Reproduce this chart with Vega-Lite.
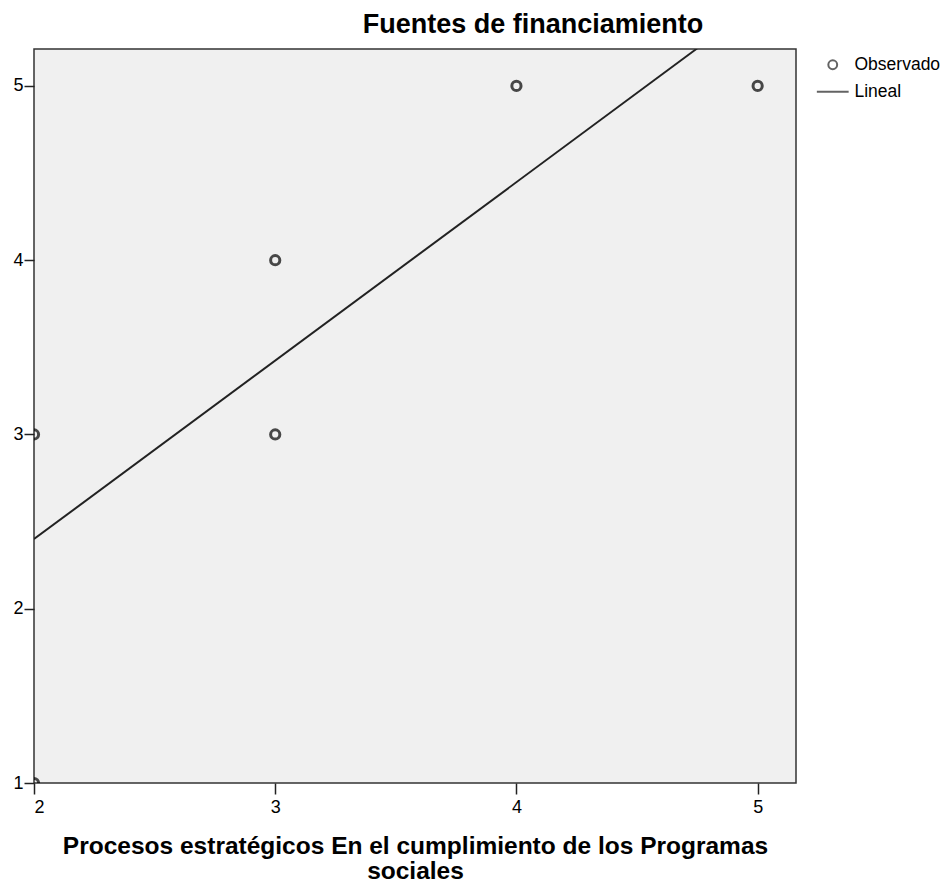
{
  "$schema": "https://vega.github.io/schema/vega-lite/v6.json",
  "autosize": {"type": "none"},
  "width": 762,
  "height": 734,
  "padding": {"left": 34, "top": 49, "right": 150, "bottom": 107},
  "background": "white",
  "title": {
    "text": "Fuentes de financiamiento",
    "anchor": "middle",
    "dx": 118,
    "offset": 10,
    "font": "Liberation Sans",
    "fontSize": 27,
    "fontWeight": "bold",
    "color": "black"
  },
  "config": {
    "view": {"fill": "#f0f0f0", "stroke": "#333333", "strokeWidth": 1.5},
    "axis": {
      "grid": false,
      "domain": false,
      "labelFont": "Liberation Sans",
      "labelFontSize": 18,
      "labelColor": "black",
      "tickColor": "#222222",
      "tickSize": 11,
      "tickWidth": 1.5,
      "titleFont": "Liberation Sans",
      "titleFontSize": 24.5,
      "titleFontWeight": "bold",
      "titleColor": "black"
    },
    "legend": {
      "labelFont": "Liberation Sans",
      "labelFontSize": 17.5,
      "labelColor": "black"
    }
  },
  "datasets": {
    "obs": [
      {"procesos": 2, "fuentes": 3},
      {"procesos": 2, "fuentes": 1},
      {"procesos": 3, "fuentes": 4},
      {"procesos": 3, "fuentes": 3},
      {"procesos": 4, "fuentes": 5},
      {"procesos": 5, "fuentes": 5}
    ],
    "fit": [
      {"procesos": 2, "fuentes": 2.40},
      {"procesos": 4.75, "fuentes": 5.216}
    ]
  },
  "layer": [
    {
      "data": {"name": "fit"},
      "mark": {"type": "line", "color": "#222222", "strokeWidth": 2, "clip": true},
      "encoding": {
        "x": {"field": "procesos", "type": "quantitative"},
        "y": {"field": "fuentes", "type": "quantitative"}
      }
    },
    {
      "data": {"name": "obs"},
      "mark": {"type": "point", "filled": false, "color": "black", "strokeWidth": 3, "size": 85, "clip": true},
      "encoding": {
        "x": {
          "field": "procesos",
          "type": "quantitative",
          "scale": {"domain": [2, 5.159], "nice": false, "zero": false},
          "axis": {
            "values": [2, 3, 4, 5],
            "format": "d",
            "labelPadding": 4,
            "titlePadding": 18,
            "titleLineHeight": 25.5,
            "title": ["Procesos estratégicos En el cumplimiento de los Programas", "sociales"]
          }
        },
        "y": {
          "field": "fuentes",
          "type": "quantitative",
          "scale": {"domain": [1, 5.212], "nice": false, "zero": false},
          "axis": {"values": [1, 2, 3, 4, 5], "format": "d", "title": null, "labelPadding": 1, "tickSize": 10}
        },
        "shape": {
          "datum": "Observado",
          "scale": {"domain": ["Observado", "Lineal"], "range": ["circle", "M-3.6,0H3.6"]},
          "legend": {
            "title": null,
            "orient": "none",
            "legendX": 790,
            "legendY": 7,
            "symbolSize": 78,
            "symbolStrokeColor": "#222222",
            "symbolFillColor": "transparent",
            "symbolStrokeWidth": 2,
            "rowPadding": 8,
            "labelOffset": 13
          }
        }
      }
    }
  ]
}
